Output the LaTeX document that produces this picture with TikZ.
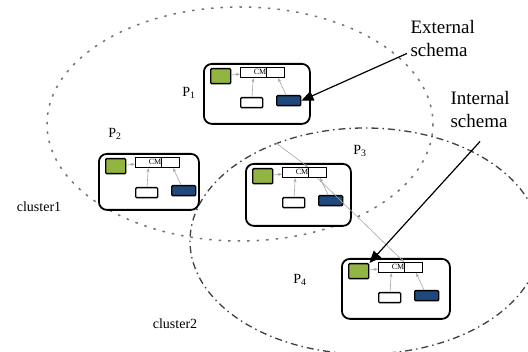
\documentclass[tikz,border=0pt]{standalone}
\usepackage{fontspec}
\setmainfont{Liberation Serif}
\usetikzlibrary{arrows.meta, positioning, calc}
\definecolor{schemagreen}{RGB}{146,180,64}
\definecolor{schemablue}{RGB}{31,73,125}

\begin{document}
\begin{tikzpicture}[x=1pt, y=-1pt, every node/.style={font=\fontsize{14}{16}\selectfont},
  peer/.style={draw, line width=1.8pt, rounded corners=8pt, fill=white, inner sep=0pt},
  greenbox/.style={draw, line width=1.4pt, fill=schemagreen, rounded corners=1pt, minimum width=20pt, minimum height=15pt, inner sep=0pt},
  cmcell/.style={draw, line width=1.2pt, fill=white, minimum height=10pt, inner sep=0pt},
  whitebox/.style={draw, line width=1.4pt, fill=white, rounded corners=1pt, minimum width=22pt, minimum height=10pt, inner sep=0pt},
  bluebox/.style={draw, line width=1.4pt, fill=schemablue, rounded corners=1pt, minimum width=24pt, minimum height=10pt, inner sep=0pt},
  link/.style={draw=gray!70, line width=0.6pt, -{Stealth[length=4pt, width=3pt]}},
  callout/.style={line width=1.2pt, -{Triangle[length=12pt, width=10pt]}},
  note/.style={font=\fontsize{19}{23}\selectfont, align=left, anchor=north west}]
  \useasboundingbox (0,0) rectangle (528,352);
  \clip (0,0) rectangle (528,352);

  % clusters
  \draw[black!55, line width=1.5pt, dash pattern=on 2.5pt off 7pt] (240,124) ellipse [x radius=193, y radius=117];
  \draw[black!75, line width=1.3pt, dash pattern=on 7pt off 4pt on 1.5pt off 4pt] (365,241) ellipse [x radius=175, y radius=113];
  \node (cl1) at (39,207) {cluster1};
  \node (cl2) at (175,324) {cluster2};

  % peers
  \foreach \p/\x/\y/\w/\h in {1/203/63/106/60, 2/98/153/100/56, 3/245/163/105/62, 4/341/258/108/60} {
    \node[peer, anchor=north west, minimum width=\w pt, minimum height=\h pt] (box\p) at (\x,\y) {};
    \node[greenbox, anchor=north west] (g\p) at (\x+7,\y+5) {};
    \node[cmcell, minimum width=26pt, anchor=north west] (cma\p) at (\x+37,\y+4) {};
    \node[cmcell, minimum width=18pt, anchor=north west] (cmb\p) at (\x+63,\y+4) {};
    \node[font=\fontsize{8}{9}\selectfont, inner sep=0pt] (cm\p) at (\x+57,\y+9) {CM};
    \node[whitebox, anchor=north west] (w\p) at (\x+37,\y+34) {};
    \node[bluebox, anchor=north west] (b\p) at (\x+73,\y+32) {};
    \draw[link] (w\p) -- (cma\p);
    \draw[link] (b\p) -- (cmb\p);
    \draw[link] (g\p) -- (cma\p);
  }
  \node (lp1) at (189,93) {P\textsubscript{1}};
  \node (lp2) at (115,134) {P\textsubscript{2}};
  \node (lp3) at (360,151) {P\textsubscript{3}};
  \node (lp4) at (300,280) {P\textsubscript{4}};

  % links between peers
  \coordinate (in3) at (276,143);
  \draw[link] (in3) -- (cmb3.north west);
  \draw[link] (cmb3.south) -- (cmb4.north west);

  % schema callouts
  \node[note] (ext) at (407,17) {External\\schema};
  \node[note] (int) at (447,88) {Internal\\schema};
  \draw[callout] ([yshift=7pt]ext.south west) -- (b1.east);
  \draw[callout] ([yshift=-10pt]int.south) -- (g4.north east);
\end{tikzpicture}
\end{document}
